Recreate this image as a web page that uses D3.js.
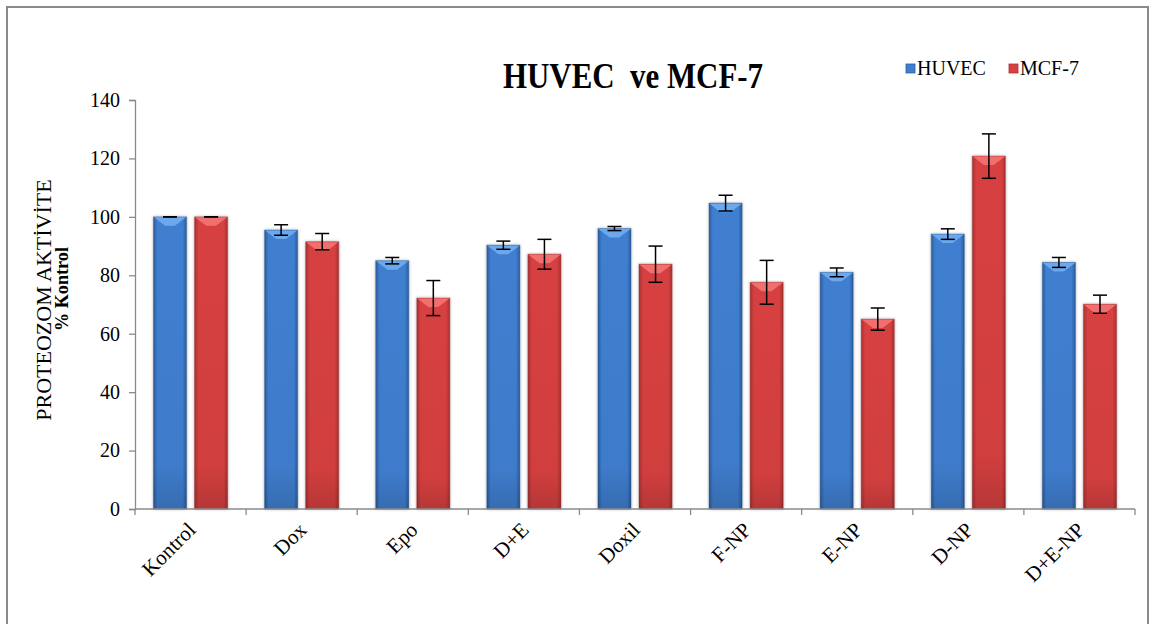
<!DOCTYPE html>
<html>
<head>
<meta charset="utf-8">
<script src="https://cdn.jsdelivr.net/npm/d3@7"></script>
<style>
  html, body { margin: 0; padding: 0; background: #fff; }
  svg { display: block; font-family: "Liberation Serif", "Times New Roman", serif; }
</style>
</head>
<body>
<svg id="chart" width="1155" height="624"></svg>
<script>
// Treatment groups along the x axis
const categories = ["Kontrol", "Dox", "Epo", "D+E", "Doxil", "F-NP", "E-NP", "D-NP", "D+E-NP"];
const seriesNames = ["HUVEC", "MCF-7"];

// Proteasome activity, % of control (mean and error)
const huvecValues = [100, 95.5, 85, 90.3, 96, 104.7, 81, 94.1, 84.4];
const huvecErrors = [0, 1.8, 1.1, 1.4, 0.7, 2.7, 1.5, 1.8, 1.7];
const mcf7Values  = [100, 91.5, 72.2, 87.2, 83.8, 77.6, 65, 120.8, 70.1];
const mcf7Errors  = [0, 2.8, 6, 5.1, 6.2, 7.5, 3.8, 7.6, 3.1];

const yTicks = [0, 20, 40, 60, 80, 100, 120, 140];

const seriesColors = {
  "HUVEC": { main: "#3f7fd0", light: "#6fabef", dark: "#2b5c9e", edge: "#23508c" },
  "MCF-7": { main: "#d74040", light: "#f27272", dark: "#a83131", edge: "#8f2a2a" }
};

const rows = categories.map((c, i) => ({
  category: c,
  bars: [
    { series: "HUVEC", value: huvecValues[i], err: huvecErrors[i] },
    { series: "MCF-7", value: mcf7Values[i], err: mcf7Errors[i] }
  ]
}));

const svg = d3.select("#chart");
const W = 1155, H = 624;
const plot = { left: 135, right: 1135, top: 100, bottom: 509 };

// Outer frame
svg.append("rect")
  .attr("x", 7).attr("y", 7)
  .attr("width", 1141).attr("height", H + 10)
  .attr("fill", "#fff")
  .attr("stroke", "#8a8a8a").attr("stroke-width", 2);

const defs = svg.append("defs");
Object.entries(seriesColors).forEach(([name, c], k) => {
  const g = defs.append("linearGradient")
    .attr("id", "grad" + k).attr("x1", "0").attr("x2", "1").attr("y1", "0").attr("y2", "0");
  g.append("stop").attr("offset", "0").attr("stop-color", c.dark);
  g.append("stop").attr("offset", "0.12").attr("stop-color", c.main);
  g.append("stop").attr("offset", "0.5").attr("stop-color", c.main);
  g.append("stop").attr("offset", "0.88").attr("stop-color", c.main);
  g.append("stop").attr("offset", "1").attr("stop-color", c.dark);
  const v = defs.append("linearGradient")
    .attr("id", "vshade" + k).attr("x1", "0").attr("x2", "0").attr("y1", "0").attr("y2", "1");
  v.append("stop").attr("offset", "0").attr("stop-color", "#000").attr("stop-opacity", 0);
  v.append("stop").attr("offset", "0.85").attr("stop-color", "#000").attr("stop-opacity", 0.03);
  v.append("stop").attr("offset", "1").attr("stop-color", "#000").attr("stop-opacity", 0.15);
});
const shadow = defs.append("filter").attr("id", "barShadow")
  .attr("x", "-30%").attr("y", "-10%").attr("width", "160%").attr("height", "120%");
shadow.append("feDropShadow").attr("dx", 0).attr("dy", 0)
  .attr("stdDeviation", 1.6).attr("flood-color", "#000").attr("flood-opacity", 0.35);

const x0 = d3.scaleBand().domain(categories).range([plot.left, plot.right]).paddingInner(0).paddingOuter(0);
const x1 = d3.scaleBand().domain(seriesNames).range([0, x0.bandwidth()]).paddingInner(0.195).paddingOuter(0.45);
const y = d3.scaleLinear().domain([0, 140]).range([plot.bottom, plot.top]);

const axisColor = "#8a8a8a";

// Y axis
const yAxis = svg.append("g")
  .attr("transform", `translate(${plot.left},0)`)
  .call(d3.axisLeft(y).tickValues(yTicks).tickSize(6).tickPadding(9).tickFormat(d3.format("d")));
yAxis.select(".domain").attr("stroke", axisColor).attr("stroke-width", 1.3);
yAxis.selectAll(".tick line").attr("stroke", axisColor).attr("stroke-width", 1.3);
yAxis.selectAll(".tick text")
  .attr("font-family", "Liberation Serif").attr("font-size", 20).attr("fill", "#000");

// Bars
const groups = svg.append("g").selectAll("g.cat")
  .data(rows).join("g")
  .attr("class", "cat")
  .attr("transform", d => `translate(${x0(d.category)},0)`);

const barG = groups.selectAll("g.bar").data(d => d.bars).join("g").attr("class", "bar");

barG.append("rect")
  .attr("x", d => x1(d.series))
  .attr("y", d => y(d.value))
  .attr("width", x1.bandwidth())
  .attr("height", d => y(0) - y(d.value))
  .attr("fill", d => `url(#grad${seriesNames.indexOf(d.series)})`)
  .attr("stroke", d => seriesColors[d.series].edge)
  .attr("stroke-opacity", 0.35)
  .attr("stroke-width", 1)
  .attr("filter", "url(#barShadow)");

barG.append("rect")
  .attr("x", d => x1(d.series))
  .attr("y", d => y(d.value))
  .attr("width", x1.bandwidth())
  .attr("height", d => y(0) - y(d.value))
  .attr("fill", (d) => `url(#vshade${seriesNames.indexOf(d.series)})`);

// Bevelled top face
barG.append("path")
  .attr("d", d => {
    const bx = x1(d.series), bw = x1.bandwidth(), ty = y(d.value);
    const bev = 9;
    return `M${bx + 0.5},${ty + 0.5} L${bx + bw - 0.5},${ty + 0.5} L${bx + bw - bev * 1.3},${ty + bev} L${bx + bev * 1.3},${ty + bev} Z`;
  })
  .attr("fill", d => seriesColors[d.series].light)
  .attr("opacity", 0.95);

// Error bars
const capHalf = 7;
barG.append("line")
  .attr("x1", d => x1(d.series) + x1.bandwidth() / 2)
  .attr("x2", d => x1(d.series) + x1.bandwidth() / 2)
  .attr("y1", d => y(d.value + d.err))
  .attr("y2", d => y(d.value - d.err))
  .attr("stroke", "#000").attr("stroke-width", 1.5);
["+", "-"].forEach(sign => {
  barG.append("line")
    .attr("x1", d => x1(d.series) + x1.bandwidth() / 2 - capHalf)
    .attr("x2", d => x1(d.series) + x1.bandwidth() / 2 + capHalf)
    .attr("y1", d => y(sign === "+" ? d.value + d.err : d.value - d.err))
    .attr("y2", d => y(sign === "+" ? d.value + d.err : d.value - d.err))
    .attr("stroke", "#000").attr("stroke-width", 1.5);
});

// X axis with boundary ticks
const xAxisG = svg.append("g");
xAxisG.append("line")
  .attr("x1", plot.left).attr("x2", plot.right)
  .attr("y1", y(0)).attr("y2", y(0))
  .attr("stroke", axisColor).attr("stroke-width", 1.3);
const boundaries = categories.map(c => x0(c)).concat([x0(categories[categories.length - 1]) + x0.bandwidth()]);
xAxisG.selectAll("line.tick").data(boundaries).join("line")
  .attr("class", "tick")
  .attr("x1", d => d).attr("x2", d => d)
  .attr("y1", y(0)).attr("y2", y(0) + 6)
  .attr("stroke", axisColor).attr("stroke-width", 1.3);

xAxisG.selectAll("text.cat").data(categories).join("text")
  .attr("class", "cat")
  .attr("transform", d => `translate(${x0(d) + x0.bandwidth() / 2 + 1},${y(0) + 17}) rotate(-45)`)
  .attr("text-anchor", "end")
  .attr("dy", "0.35em")
  .attr("font-size", 21)
  .attr("fill", "#000")
  .text(d => d);

// Y axis title
svg.append("text")
  .attr("transform", `translate(51,300) rotate(-90)`)
  .attr("text-anchor", "middle")
  .attr("font-size", 22)
  .attr("fill", "#000")
  .text("PROTEOZOM AKTİVİTE");
svg.append("text")
  .attr("transform", `translate(68,331) rotate(-90)`)
  .attr("font-size", 19)
  .attr("font-weight", "bold")
  .attr("textLength", 84).attr("lengthAdjust", "spacingAndGlyphs")
  .attr("fill", "#000")
  .text("% Kontrol");

// Chart title
svg.append("text")
  .attr("x", 503).attr("y", 88)
  .attr("font-size", 36).attr("font-weight", "bold")
  .attr("textLength", 260).attr("lengthAdjust", "spacingAndGlyphs")
  .attr("fill", "#000")
  .text("HUVEC\u00A0\u00A0ve MCF-7");

// Legend
const legendItems = [
  { name: "HUVEC", x: 906 },
  { name: "MCF-7", x: 1009 }
];
const leg = svg.append("g").selectAll("g").data(legendItems).join("g")
  .attr("transform", d => `translate(${d.x},64)`);
leg.append("rect")
  .attr("width", 9).attr("height", 9)
  .attr("fill", d => seriesColors[d.name].main)
  .attr("stroke", d => seriesColors[d.name].dark).attr("stroke-width", 0.8);
leg.append("text")
  .attr("x", 11).attr("y", 11)
  .attr("font-size", 20).attr("fill", "#000")
  .text(d => d.name);
</script>
</body>
</html>
